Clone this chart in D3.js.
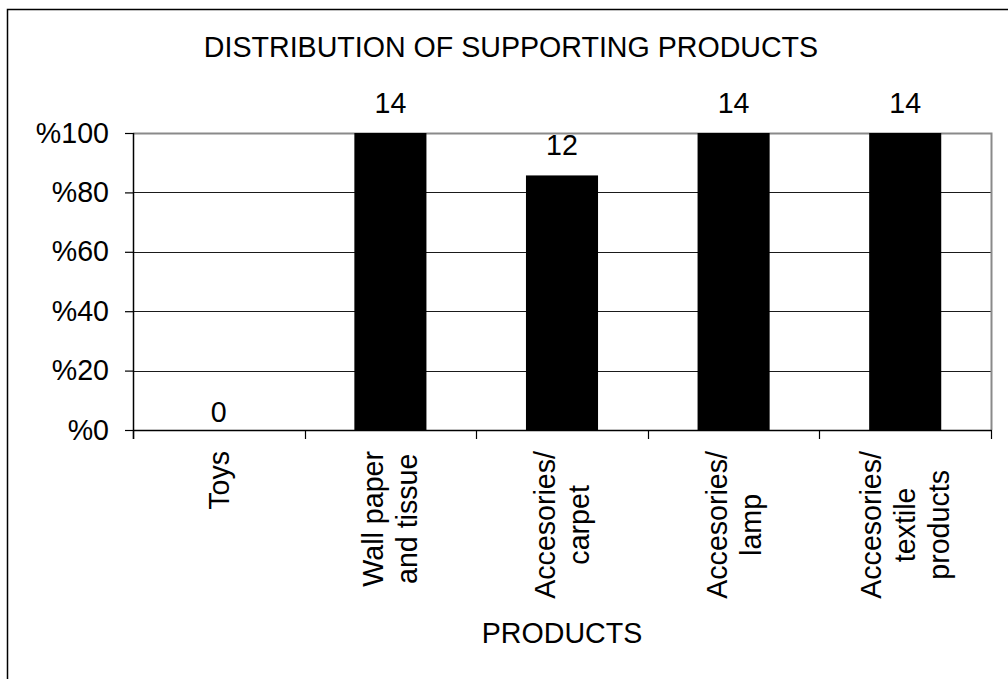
<!DOCTYPE html>
<html>
<head>
<meta charset="utf-8">
<script src="https://cdn.jsdelivr.net/npm/d3@7"></script>
<style>
  html, body { margin: 0; padding: 0; background: #fff; }
  svg { display: block; }
  text { font-family: "Liberation Sans", Arial, sans-serif; fill: #000; }
</style>
</head>
<body>
<svg id="chart" width="1008" height="679"></svg>
<script>
// Supporting products: number of responses per category (out of the total)
const categories = [
  ["Toys"],
  ["Wall paper", "and tissue"],
  ["Accesories/", "carpet"],
  ["Accesories/", "lamp"],
  ["Accesories/", "textile", "products"]
];
const counts = [0, 14, 12, 14, 14];
const total = 14;
const yTicks = [0, 20, 40, 60, 80, 100];
const yTickLabels = ["%0", "%20", "%40", "%60", "%80", "%100"];

const chartTitle = "DISTRIBUTION OF SUPPORTING PRODUCTS";
const xTitle = "PRODUCTS";

const W = 1008, H = 679;
const margin = { left: 133, right: 17, top: 133, bottom: 249 };
const plotW = W - margin.left - margin.right;
const plotH = H - margin.top - margin.bottom;
const fontSize = 28.6;

const svg = d3.select("#chart");

// outer frame (runs past the right and bottom edges)
svg.append("rect")
  .attr("x", 7.5).attr("y", 9.5)
  .attr("width", W + 20).attr("height", H + 20)
  .attr("fill", "#fff").attr("stroke", "#000").attr("stroke-width", 1.5);

const data = categories.map((lines, i) => ({
  lines, count: counts[i], pct: counts[i] / total * 100, key: String(i)
}));

const x = d3.scaleBand()
  .domain(data.map(d => d.key))
  .range([0, plotW])
  .paddingInner(0.58)
  .paddingOuter(0.29);

const y = d3.scaleLinear().domain([0, 100]).range([plotH, 0]);

const g = svg.append("g").attr("transform", `translate(${margin.left},${margin.top})`);

// gridlines
g.append("g").selectAll("line")
  .data(yTicks.filter(t => t > 0 && t < 100))
  .join("line")
  .attr("x1", 0).attr("x2", plotW)
  .attr("y1", d => Math.round(y(d)) + 0.5).attr("y2", d => Math.round(y(d)) + 0.5)
  .attr("stroke", "#1a1a1a").attr("stroke-width", 1);

// plot frame: top and right edges in grey
g.append("path")
  .attr("d", `M0,${y(100) + 0.5}H${plotW + 0.5}V${plotH}`)
  .attr("fill", "none").attr("stroke", "#8a8a8a").attr("stroke-width", 2);

// bars
g.append("g").selectAll("rect")
  .data(data)
  .join("rect")
  .attr("x", d => x(d.key))
  .attr("width", x.bandwidth())
  .attr("y", d => y(d.pct))
  .attr("height", d => plotH - y(d.pct))
  .attr("fill", "#000");

// value labels
g.append("g").selectAll("text")
  .data(data)
  .join("text")
  .attr("x", d => x(d.key) + x.bandwidth() / 2)
  .attr("y", d => y(d.pct) - (d.count === 0 ? 8 : 20))
  .attr("text-anchor", "middle")
  .attr("font-size", fontSize)
  .text(d => d.count);

// y axis
const yAxis = d3.axisLeft(y)
  .tickValues(yTicks)
  .tickFormat((d, i) => yTickLabels[i])
  .tickSize(8)
  .tickPadding(16);
const ya = g.append("g").call(yAxis);
ya.select(".domain").attr("stroke", "#000").attr("stroke-width", 1.5)
  .attr("d", `M0.5,0V${plotH + 9}`);
ya.selectAll(".tick line").attr("stroke", "#000").attr("stroke-width", 1.2);
ya.selectAll(".tick text")
  .attr("font-size", fontSize)
  .attr("font-family", "Liberation Sans, Arial, sans-serif")
  .attr("fill", "#000");

// x axis baseline and category-boundary ticks
const step = x.step();
const boundaries = d3.range(categories.length + 1).map(i => i * step);
g.append("line")
  .attr("x1", 0).attr("x2", plotW + 0.5)
  .attr("y1", plotH + 0.5).attr("y2", plotH + 0.5)
  .attr("stroke", "#000").attr("stroke-width", 1.5);
g.append("g").selectAll("line")
  .data(boundaries)
  .join("line")
  .attr("x1", d => Math.round(d) + 0.5).attr("x2", d => Math.round(d) + 0.5)
  .attr("y1", plotH).attr("y2", plotH + 9)
  .attr("stroke", "#000").attr("stroke-width", 1.2);

// category labels, rotated, lines centred on each other
const lineH = 34;
const labelGap = 21;
const lab = g.append("g").selectAll("g")
  .data(data)
  .join("g");
lab.each(function (d) {
  const cx = x(d.key) + x.bandwidth() / 2;
  const grp = d3.select(this);
  const t = grp.append("text")
    .attr("text-anchor", "middle")
    .attr("font-size", fontSize);
  const n = d.lines.length;
  const spans = d.lines.map((line, i) =>
    t.append("tspan")
      .attr("x", 0)
      .attr("y", (i - (n - 1) / 2) * lineH + 10)
      .text(line));
  const maxW = d3.max(spans, s => s.node().getComputedTextLength());
  t.attr("transform", `translate(${cx},${plotH + labelGap + maxW / 2}) rotate(-90)`);
});

// titles
svg.append("text")
  .attr("x", 511).attr("y", 57)
  .attr("text-anchor", "middle")
  .attr("font-size", fontSize)
  .text(chartTitle);

svg.append("text")
  .attr("x", margin.left + plotW / 2).attr("y", 643)
  .attr("text-anchor", "middle")
  .attr("font-size", fontSize)
  .text(xTitle);
</script>
</body>
</html>
